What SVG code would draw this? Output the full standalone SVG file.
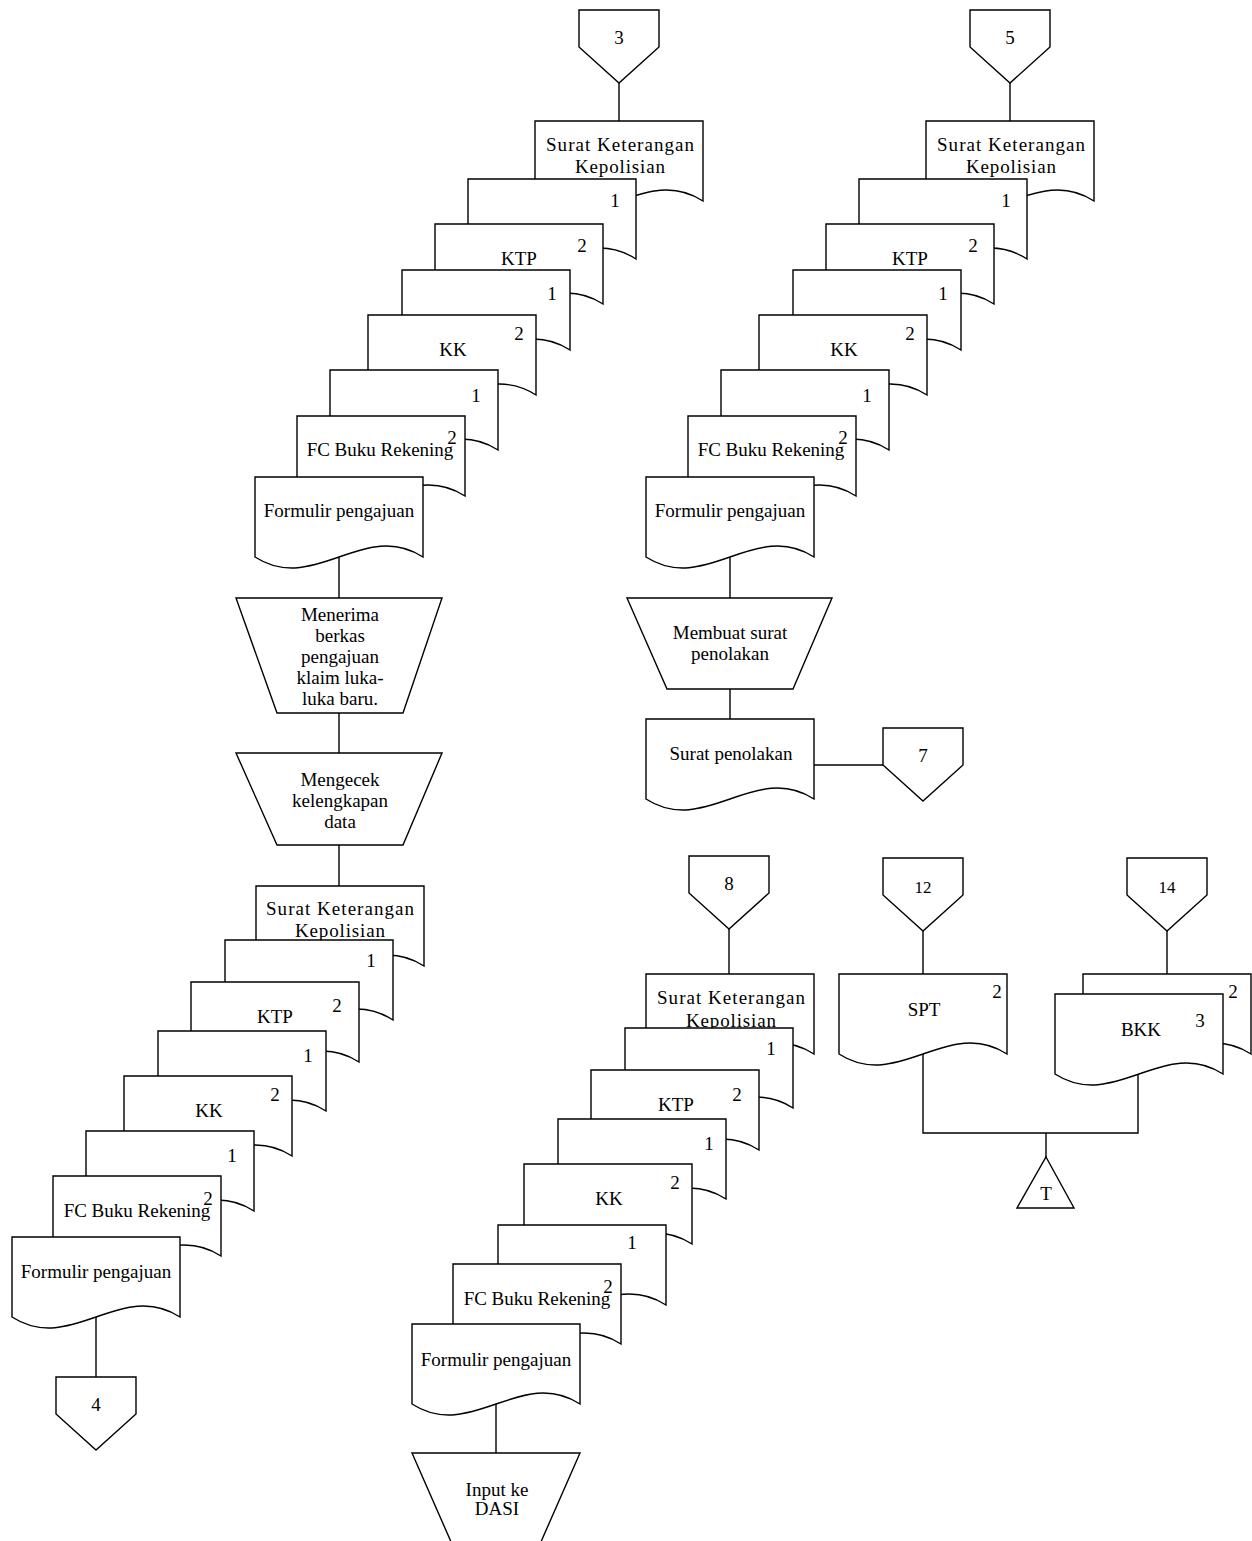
<svg xmlns="http://www.w3.org/2000/svg" xmlns:xlink="http://www.w3.org/1999/xlink" width="1252" height="1541" viewBox="0 0 1252 1541">
<style>
.s{fill:#fff;stroke:#000;stroke-width:1.4;stroke-linejoin:miter}
.c{fill:none;stroke:#000;stroke-width:1.4}
.t{font-family:"Liberation Serif","Times New Roman",serif;font-size:19px;text-anchor:middle;fill:#000}
.n{font-family:"Liberation Serif","Times New Roman",serif;font-size:17px;text-anchor:middle;fill:#000}
</style>
<defs>
<path id="doc" d="M0,0 H168 V80 C109.2,42 58.8,118 0,80 Z"/>
<path id="off" d="M0,0 H80 V37 L40,73 L0,37 Z"/>
</defs>
<rect width="1252" height="1541" fill="#fff"/>

<g id="connectors">
<line class="c" x1="619" y1="83" x2="619" y2="121"/>
<line class="c" x1="339" y1="556" x2="339" y2="598"/>
<line class="c" x1="339" y1="713" x2="339" y2="753"/>
<line class="c" x1="339" y1="845" x2="339" y2="886"/>
<line class="c" x1="96" y1="1317" x2="96" y2="1377"/>
<line class="c" x1="1010" y1="83" x2="1010" y2="121"/>
<line class="c" x1="730" y1="556" x2="730" y2="598"/>
<line class="c" x1="730" y1="689" x2="730" y2="719"/>
<line class="c" x1="813" y1="765" x2="883" y2="765"/>
<line class="c" x1="729" y1="928" x2="729" y2="974"/>
<line class="c" x1="496" y1="1404" x2="496" y2="1453"/>
<line class="c" x1="923" y1="931" x2="923" y2="974"/>
<line class="c" x1="1167" y1="931" x2="1167" y2="974"/>
<polyline class="c" points="923,1054 923,1133 1138,1133 1138,1074"/>
<line class="c" x1="1046" y1="1133" x2="1046" y2="1157"/>
</g>

<!-- Stack 1 -->
<g id="off3"><use href="#off" class="s" x="579" y="10"/><text class="t" x="619" y="44">3</text></g>
<g id="s1-skk"><use href="#doc" class="s" x="535" y="121"/><text class="t" x="620" y="151" textLength="148" lengthAdjust="spacing">Surat Keterangan</text><text class="t" x="620" y="173" textLength="90" lengthAdjust="spacing">Kepolisian</text></g>
<g id="s1-skk1"><use href="#doc" class="s" x="468" y="179"/><text class="t" x="615" y="207">1</text></g>
<g id="s1-ktp2"><use href="#doc" class="s" x="435" y="224"/><text class="t" x="582" y="252">2</text><text class="t" x="519" y="265">KTP</text></g>
<g id="s1-ktp1"><use href="#doc" class="s" x="402" y="270"/><text class="t" x="552" y="300">1</text></g>
<g id="s1-kk2"><use href="#doc" class="s" x="368" y="315"/><text class="t" x="519" y="340">2</text><text class="t" x="453" y="356">KK</text></g>
<g id="s1-kk1"><use href="#doc" class="s" x="330" y="370"/><text class="t" x="476" y="402">1</text></g>
<g id="s1-fc"><use href="#doc" class="s" x="297" y="416"/><text class="t" x="380" y="456">FC Buku Rekening</text><text class="t" x="452" y="444">2</text></g>
<g id="s1-form"><use href="#doc" class="s" x="255" y="477"/><text class="t" x="339" y="517">Formulir pengajuan</text></g>
<g id="p-menerima"><polygon class="s" points="236,598 442,598 403,713 277,713"/>
<text class="t" x="340" y="621">Menerima</text><text class="t" x="340" y="642">berkas</text><text class="t" x="340" y="663">pengajuan</text><text class="t" x="340" y="684">klaim luka-</text><text class="t" x="340" y="705">luka baru.</text></g>
<g id="p-mengecek"><polygon class="s" points="236,753 442,753 403,845 277,845"/>
<text class="t" x="340" y="786">Mengecek</text><text class="t" x="340" y="807">kelengkapan</text><text class="t" x="340" y="828">data</text></g>

<!-- Stack 2 -->
<g id="off5"><use href="#off" class="s" x="970" y="10"/><text class="t" x="1010" y="44">5</text></g>
<g id="s2-skk"><use href="#doc" class="s" x="926" y="121"/><text class="t" x="1011" y="151" textLength="148" lengthAdjust="spacing">Surat Keterangan</text><text class="t" x="1011" y="173" textLength="90" lengthAdjust="spacing">Kepolisian</text></g>
<g id="s2-skk1"><use href="#doc" class="s" x="859" y="179"/><text class="t" x="1006" y="207">1</text></g>
<g id="s2-ktp2"><use href="#doc" class="s" x="826" y="224"/><text class="t" x="973" y="252">2</text><text class="t" x="910" y="265">KTP</text></g>
<g id="s2-ktp1"><use href="#doc" class="s" x="793" y="270"/><text class="t" x="943" y="300">1</text></g>
<g id="s2-kk2"><use href="#doc" class="s" x="759" y="315"/><text class="t" x="910" y="340">2</text><text class="t" x="844" y="356">KK</text></g>
<g id="s2-kk1"><use href="#doc" class="s" x="721" y="370"/><text class="t" x="867" y="402">1</text></g>
<g id="s2-fc"><use href="#doc" class="s" x="688" y="416"/><text class="t" x="771" y="456">FC Buku Rekening</text><text class="t" x="843" y="444">2</text></g>
<g id="s2-form"><use href="#doc" class="s" x="646" y="477"/><text class="t" x="730" y="517">Formulir pengajuan</text></g>
<g id="p-membuat"><polygon class="s" points="627,598 832,598 793,689 667,689"/>
<text class="t" x="730" y="639">Membuat surat</text><text class="t" x="730" y="660">penolakan</text></g>
<g id="d-penolakan"><use href="#doc" class="s" x="646" y="719"/><text class="t" x="731" y="760">Surat penolakan</text></g>
<g id="off7"><use href="#off" class="s" x="883" y="728"/><text class="t" x="923" y="762">7</text></g>

<!-- Stack 3 -->
<g id="s3-skk"><use href="#doc" class="s" x="256" y="886"/><text class="t" x="340" y="915" textLength="148" lengthAdjust="spacing">Surat Keterangan</text><text class="t" x="340" y="937" textLength="90" lengthAdjust="spacing">Kepolisian</text></g>
<g id="s3-skk1"><use href="#doc" class="s" x="225" y="940"/><text class="t" x="371" y="967">1</text></g>
<g id="s3-ktp2"><use href="#doc" class="s" x="191" y="982"/><text class="t" x="337" y="1012">2</text><text class="t" x="275" y="1023">KTP</text></g>
<g id="s3-ktp1"><use href="#doc" class="s" x="158" y="1031"/><text class="t" x="308" y="1062">1</text></g>
<g id="s3-kk2"><use href="#doc" class="s" x="124" y="1076"/><text class="t" x="275" y="1101">2</text><text class="t" x="209" y="1117">KK</text></g>
<g id="s3-kk1"><use href="#doc" class="s" x="86" y="1131"/><text class="t" x="232" y="1162">1</text></g>
<g id="s3-fc"><use href="#doc" class="s" x="53" y="1176"/><text class="t" x="137" y="1217">FC Buku Rekening</text><text class="t" x="208" y="1205">2</text></g>
<g id="s3-form"><use href="#doc" class="s" x="12" y="1237"/><text class="t" x="96" y="1278">Formulir pengajuan</text></g>
<g id="off4"><use href="#off" class="s" x="56" y="1377"/><text class="t" x="96" y="1411">4</text></g>

<!-- Stack 4 -->
<g id="off8"><use href="#off" class="s" x="689" y="856"/><text class="t" x="729" y="890">8</text></g>
<g id="s4-skk"><use href="#doc" class="s" x="646" y="974"/><text class="t" x="731" y="1004" textLength="148" lengthAdjust="spacing">Surat Keterangan</text><text class="t" x="731" y="1027" textLength="90" lengthAdjust="spacing">Kepolisian</text></g>
<g id="s4-skk1"><use href="#doc" class="s" x="625" y="1028"/><text class="t" x="771" y="1055">1</text></g>
<g id="s4-ktp2"><use href="#doc" class="s" x="591" y="1070"/><text class="t" x="737" y="1101">2</text><text class="t" x="676" y="1111">KTP</text></g>
<g id="s4-ktp1"><use href="#doc" class="s" x="558" y="1119"/><text class="t" x="709" y="1150">1</text></g>
<g id="s4-kk2"><use href="#doc" class="s" x="524" y="1164"/><text class="t" x="675" y="1189">2</text><text class="t" x="609" y="1205">KK</text></g>
<g id="s4-kk1"><use href="#doc" class="s" x="498" y="1225"/><text class="t" x="632" y="1249">1</text></g>
<g id="s4-fc"><use href="#doc" class="s" x="453" y="1264"/><text class="t" x="537" y="1305">FC Buku Rekening</text><text class="t" x="608" y="1293">2</text></g>
<g id="s4-form"><use href="#doc" class="s" x="412" y="1324"/><text class="t" x="496" y="1366">Formulir pengajuan</text></g>
<g id="p-input"><polygon class="s" points="412,1453 580,1453 533,1560 459,1560"/>
<text class="t" x="497" y="1496">Input ke</text><text class="t" x="497" y="1515">DASI</text></g>

<!-- Bottom right -->
<g id="off12"><use href="#off" class="s" x="883" y="858"/><text class="n" x="923" y="893">12</text></g>
<g id="d-spt"><use href="#doc" class="s" x="839" y="974"/><text class="t" x="997" y="998">2</text><text class="t" x="924" y="1016">SPT</text></g>
<g id="off14"><use href="#off" class="s" x="1127" y="858"/><text class="n" x="1167" y="893">14</text></g>
<g id="d-bkk2"><use href="#doc" class="s" x="1083" y="974"/><text class="t" x="1233" y="998">2</text></g>
<g id="d-bkk3"><use href="#doc" class="s" x="1055" y="994"/><text class="t" x="1200" y="1027">3</text><text class="t" x="1141" y="1036">BKK</text></g>
<g id="arsip-t"><polygon class="s" points="1046,1157 1074,1208 1017,1208"/><text class="t" x="1046" y="1200">T</text></g>
</svg>
